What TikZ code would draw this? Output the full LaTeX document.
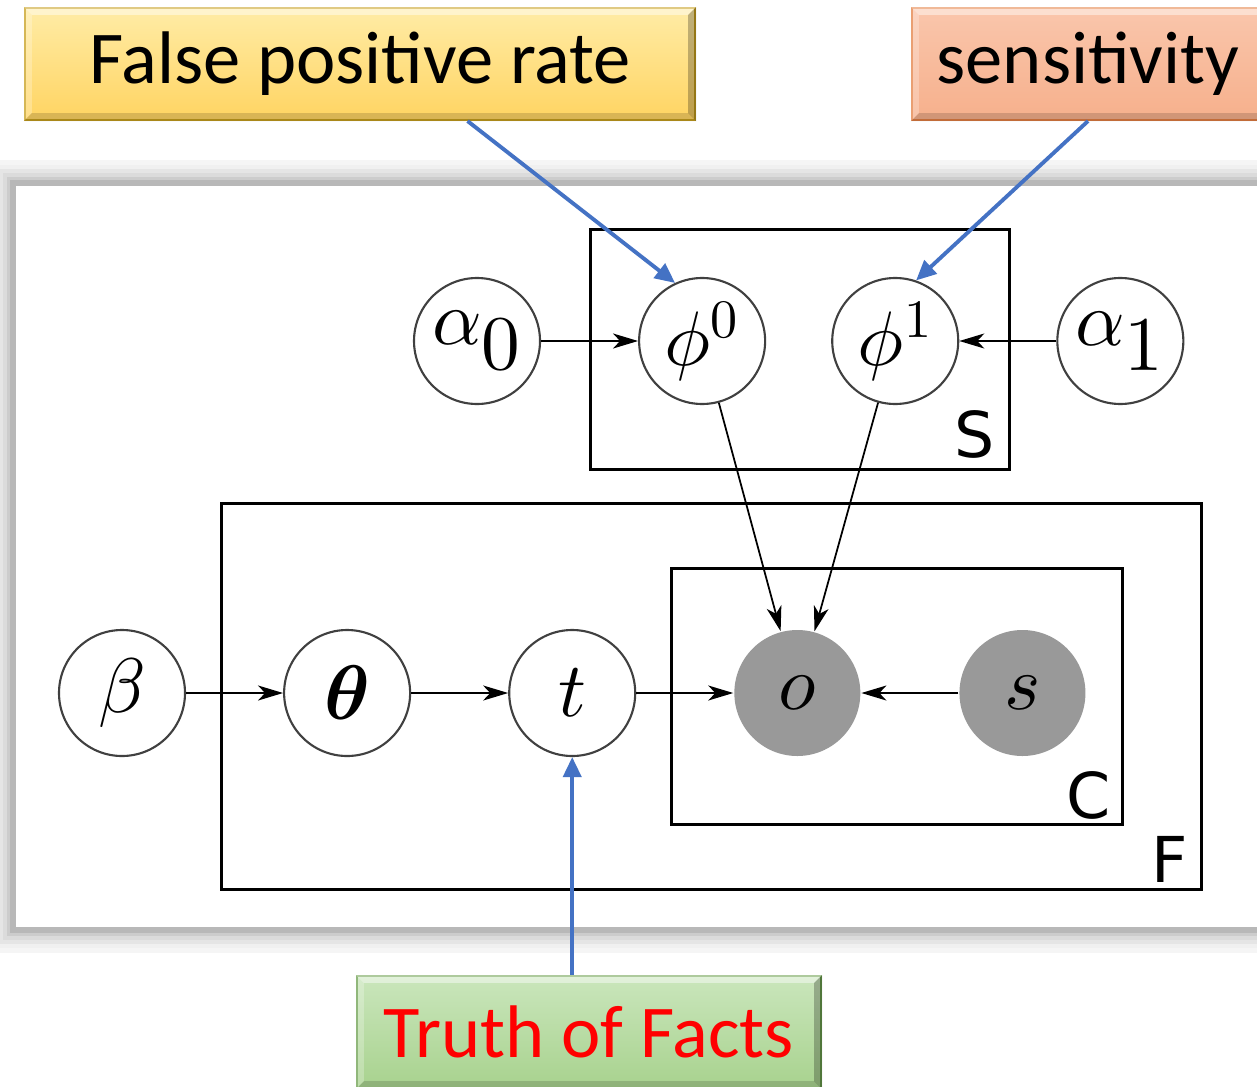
\documentclass[tikz,border=0pt]{standalone}
\usepackage{fontspec}
\usepackage{amsmath}
\usepackage{unicode-math}
\setmathfont{Latin Modern Math}
\usetikzlibrary{arrows.meta,calc,positioning}
\newfontfamily\callfont{Carlito}
\newfontfamily\platefont{DejaVu Sans}
\definecolor{callblue}{RGB}{68,114,196}
\definecolor{fprtop}{RGB}{255,236,166}
\definecolor{fprbot}{RGB}{255,212,98}
\definecolor{fprline}{RGB}{200,160,30}
\definecolor{senstop}{RGB}{250,198,172}
\definecolor{sensbot}{RGB}{246,176,140}
\definecolor{sensline}{RGB}{228,128,68}
\definecolor{truthtop}{RGB}{202,230,188}
\definecolor{truthbot}{RGB}{168,210,142}
\definecolor{truthline}{RGB}{108,160,78}

\tikzset{
  rv/.style={circle, draw=black!75, line width=0.6pt, minimum size=1.26cm, inner sep=0pt,
    font=\fontsize{22}{24}\selectfont},
  obs/.style={rv, draw=none, fill=black!40},
  plate/.style={draw, line width=0.9pt, inner sep=0pt},
  platelabel/.style={font=\platefont\fontsize{18}{20}\selectfont, anchor=base east, inner sep=0pt},
  edge/.style={-{Stealth[length=0.25cm,width=0.15cm,inset=0.07cm]}, line width=0.5pt},
  callout/.style={draw, line width=0.6pt, minimum height=1.12cm, inner sep=0pt,
    font=\callfont\fontsize{21.2}{24}\selectfont},
  callarrow/.style={-{Triangle[length=0.2cm,width=0.18cm]}, draw=callblue, line width=1.1pt},
}

% light top/left and dark right/bottom bands of a callout
\newcommand{\calloutbevel}[1]{%
  \fill[white, opacity=0.45] (#1.north west) -- (#1.north east) -- ([shift={(-0.08,-0.08)}]#1.north east) -- ([shift={(0.08,-0.08)}]#1.north west) -- cycle;
  \fill[white, opacity=0.25] (#1.north west) -- ([shift={(0.08,-0.08)}]#1.north west) -- ([shift={(0.08,0.08)}]#1.south west) -- (#1.south west) -- cycle;
  \fill[black, opacity=0.25] (#1.north east) -- (#1.south east) -- ([shift={(-0.08,0.08)}]#1.south east) -- ([shift={(-0.08,-0.08)}]#1.north east) -- cycle;
  \fill[black, opacity=0.15] (#1.south west) -- (#1.south east) -- ([shift={(-0.08,0.08)}]#1.south east) -- ([shift={(0.08,0.08)}]#1.south west) -- cycle;
}

\begin{document}
\begin{tikzpicture}[node distance=0.97cm]
\useasboundingbox (0,0) rectangle (12.57,-10.86);

% panel with soft shadow
\foreach \d/\g in {0.26/4, 0.21/6, 0.17/10, 0.13/14, 0.09/20, 0.06/28}
  \fill[black!\g] (0.16-\d,-1.86+\d) rectangle (13.0,-9.27-\d);
\fill[white] (0.16,-1.86) rectangle (13.0,-9.27);

% plates
\node[plate, anchor=north west, minimum width=4.19cm, minimum height=2.40cm] (plS) at (5.89,-2.28) {};
\node[plate, anchor=north west, minimum width=9.80cm, minimum height=3.86cm] (plF) at (2.20,-5.02) {};
\node[plate, anchor=north west, minimum width=4.51cm, minimum height=2.56cm] (plC) at (6.70,-5.67) {};
\node[platelabel] (labS) at ([shift={(-0.16,0.14)}]plS.south east) {S};
\node[platelabel] (labF) at ([shift={(-0.15,0.09)}]plF.south east) {F};
\node[platelabel] (labC) at ([shift={(-0.13,0.08)}]plC.south east) {C};

% variables
\node[rv] (a0) at (4.77,-3.41) {$\alpha_{\textstyle 0}$};
\node[rv, right=of a0] (phi0) {$\phi^0$};
\node[rv, right=0.65cm of phi0] (phi1) {$\phi^1$};
\node[rv, right=of phi1] (a1) {$\alpha_{\textstyle 1}$};

\node[rv] (beta) at (1.22,-6.93) {$\beta$};
\node[rv, right=of beta] (theta) {$\symbfit{\theta}$};
\node[rv, right=of theta] (t) {$t$};
\node[obs, right=of t] (o) {$o$};
\node[obs, right=of o] (s) {$s$};

\draw[edge] (a0) -- (phi0);
\draw[edge] (a1) -- (phi1);
\draw[edge] (phi0) -- (o);
\draw[edge] (phi1) -- (o);
\draw[edge] (beta) -- (theta);
\draw[edge] (theta) -- (t);
\draw[edge] (t) -- (o);
\draw[edge] (s) -- (o);

% callouts
\node[callout, draw=fprline, top color=fprtop, bottom color=fprbot, minimum width=6.70cm] (fpr) at (3.60,-0.64) {False positive rate};
\calloutbevel{fpr}
\node[callout, draw=sensline, top color=senstop, bottom color=sensbot, minimum width=3.52cm] (sens) at (10.88,-0.64) {sensitivity};
\calloutbevel{sens}
\node[callout, draw=truthline, top color=truthtop, bottom color=truthbot, minimum width=4.64cm, text=red] (truth) at (5.89,-10.32) {Truth of Facts};
\calloutbevel{truth}

\draw[callarrow] ($(fpr.south west)!0.66!(fpr.south east)$) -- (phi0.115);
\draw[callarrow] (sens.south) -- (phi1.71);
\draw[callarrow] (truth.north -| t.south) -- (t.south);
\end{tikzpicture}
\end{document}
